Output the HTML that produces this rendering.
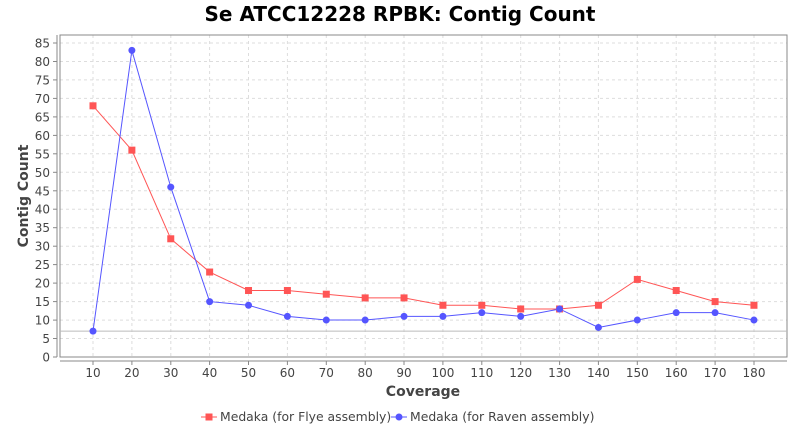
<!DOCTYPE html>
<html><head><meta charset="utf-8"><style>
body{margin:0;background:#fff;font-family:"Liberation Sans","DejaVu Sans",sans-serif;}
</style></head><body>
<svg id="s" width="800" height="430" xmlns="http://www.w3.org/2000/svg" font-family="DejaVu Sans, Liberation Sans, sans-serif">
<rect width="800" height="430" fill="#fff"/>
<text x="400" y="21" text-anchor="middle" font-size="20" font-weight="bold" fill="#000">Se ATCC12228 RPBK: Contig Count</text>
<g id="g"></g>
</svg>
<script>
const g=document.getElementById('g');
const X=i=>93+i*38.88, Y=v=>357-v*3.694;
let h='';
h+='<rect x="60" y="35" width="727" height="322" fill="#fff"/>';
for(let v=0;v<=85;v+=5){const y=Y(v).toFixed(1);
 if(v>0)h+=`<line x1="60" x2="787" y1="${y}" y2="${y}" stroke="#ddd" stroke-dasharray="3,3"/>`;
 h+=`<line x1="53" x2="57" y1="${y}" y2="${y}" stroke="#888"/>`;
 h+=`<text x="50" y="${+y+4.5}" text-anchor="end" font-size="12" fill="#444">${v}</text>`;}
for(let i=0;i<18;i++){const x=X(i).toFixed(1);
 h+=`<line y1="35" y2="357" x1="${x}" x2="${x}" stroke="#ddd" stroke-dasharray="3,3"/>`;
 h+=`<line y1="361" y2="365" x1="${x}" x2="${x}" stroke="#888"/>`;
 h+=`<text x="${x}" y="377" text-anchor="middle" font-size="12" fill="#444">${(i+1)*10}</text>`;}
h+='<rect x="60" y="35" width="727" height="322" fill="none" stroke="#888" stroke-width="1"/>';
h+='<line x1="57" x2="57" y1="35" y2="357" stroke="#888"/><line x1="60" x2="787" y1="361" y2="361" stroke="#888"/>';
h+=`<line x1="60" x2="787" y1="${Y(7)}" y2="${Y(7)}" stroke="#bbb" stroke-width="1"/>`;
const r=[68,56,32,23,18,18,17,16,16,14,14,13,13,14,21,18,15,14];
const b=[7,83,46,15,14,11,10,10,11,11,12,11,13,8,10,12,12,10];
h+=`<polyline fill="none" stroke="#ff5555" stroke-width="1" points="${r.map((v,i)=>X(i)+','+Y(v)).join(' ')}"/>`;
h+=`<polyline fill="none" stroke="#5555ff" stroke-width="1" points="${b.map((v,i)=>X(i)+','+Y(v)).join(' ')}"/>`;
r.forEach((v,i)=>h+=`<rect x="${X(i)-3.5}" y="${Y(v)-3.5}" width="7" height="7" fill="#ff5555"/>`);
b.forEach((v,i)=>h+=`<circle cx="${X(i)}" cy="${Y(v)}" r="3.5" fill="#5555ff"/>`);
h+='<text x="423" y="396" text-anchor="middle" font-size="14" font-weight="bold" fill="#444">Coverage</text>';
h+='<text transform="translate(28,196) rotate(-90)" text-anchor="middle" font-size="14" font-weight="bold" fill="#444">Contig Count</text>';
h+='<line x1="201" x2="217" y1="417" y2="417" stroke="#ff5555"/><rect x="205.5" y="413.5" width="7" height="7" fill="#ff5555"/>';
h+='<text x="220" y="421" font-size="12.4" fill="#444">Medaka (for Flye assembly)</text>';
h+='<line x1="391" x2="407" y1="417" y2="417" stroke="#5555ff"/><circle cx="399" cy="417" r="3.5" fill="#5555ff"/>';
h+='<text x="410" y="421" font-size="12.4" fill="#444">Medaka (for Raven assembly)</text>';
g.innerHTML=h;
</script>
</body></html>
